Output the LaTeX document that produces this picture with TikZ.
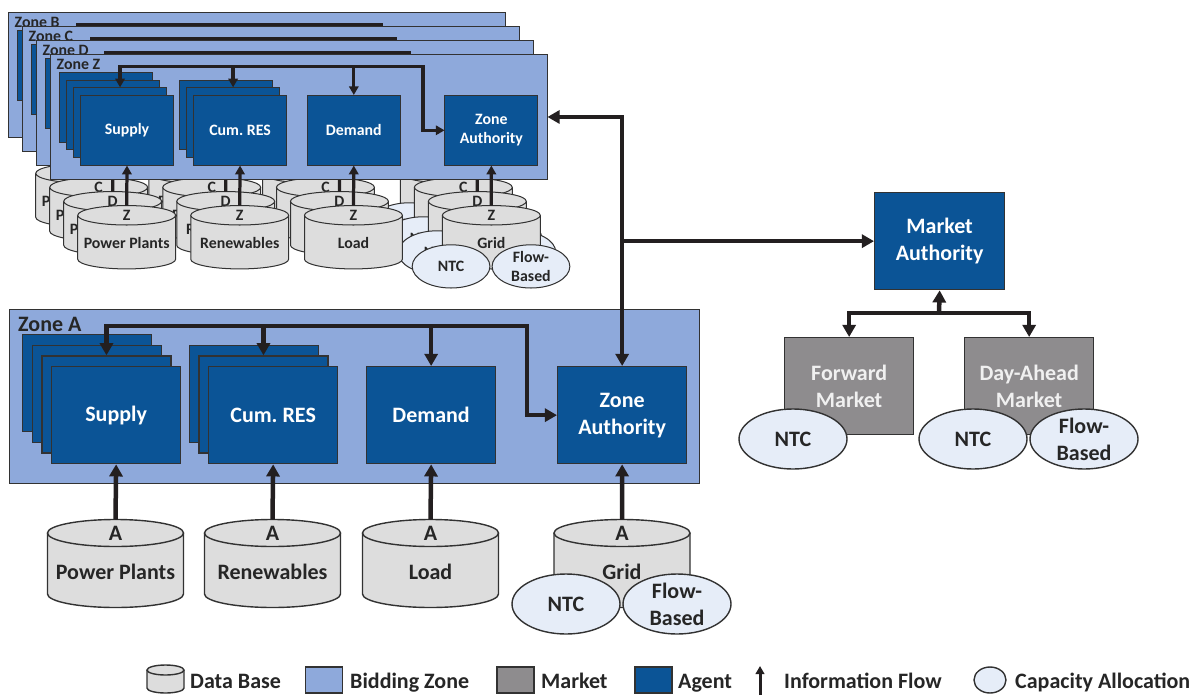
\documentclass[tikz,border=0pt]{standalone}
\usepackage{fontspec}
\setmainfont{Carlito}
\usetikzlibrary{arrows.meta,shapes.geometric}

\definecolor{zonefill}{RGB}{142,169,219}
\definecolor{agentfill}{RGB}{11,84,150}
\definecolor{mktfill}{RGB}{142,140,142}
\definecolor{cylfill}{RGB}{221,221,221}
\definecolor{capfill}{RGB}{230,237,248}
\definecolor{linec}{RGB}{35,31,32}
\definecolor{textdark}{RGB}{38,38,38}
\definecolor{edgec}{RGB}{50,50,50}

\def\zs{1}

\tikzset{
  txt/.style={font=\fontsize{22}{27}\selectfont\bfseries},
  zonebg/.style={draw=edgec, line width=1.3pt*\zs, fill=zonefill, inner sep=0pt},
  zonelbl/.style={txt, text=textdark, inner sep=0pt},
  agent/.style={txt, draw=edgec, line width=1.3pt*\zs, fill=agentfill, text=white,
    minimum width=129pt, minimum height=97pt, inner sep=0pt, align=center},
  market/.style={txt, draw=edgec, line width=1.3pt*\zs, fill=mktfill, text=white!94!black,
    minimum width=129pt, minimum height=97pt, inner sep=0pt, align=center},
  cylline/.style={draw=edgec, line width=1.4pt*\zs},
  cyltext/.style={txt, text=textdark, inner sep=0pt},
  capell/.style={ellipse, draw=edgec, line width=1.4pt*\zs, fill=capfill,
    minimum width=108pt, minimum height=60pt, inner sep=0pt},
  captext/.style={txt, text=textdark, inner sep=0pt, align=center},
  flow/.style={draw=linec, line width=4.5pt*\zs, line join=miter},
  lgtext/.style={txt, text=textdark, inner sep=0pt, anchor=base west},
}

% database cylinder: name, centre x, key letter, caption
\newcommand\dbcyl[4]{%
  \fill[cylfill] ({#2-68},-533) -- ({#2-68},-594)
    arc[start angle=180, end angle=360, x radius=68, y radius=13.5] -- ({#2+68},-533) -- cycle;
  \draw[cylline] ({#2-68},-533) -- ({#2-68},-594)
    arc[start angle=180, end angle=360, x radius=68, y radius=13.5] -- ({#2+68},-533);
  \draw[cylline, fill=cylfill] (#2,-533) ellipse[x radius=68, y radius=13.5];
  \coordinate (#1) at (#2,-519.5);
  \node[cyltext] (#1-k) at (#2,-533) {#3};
  \node[cyltext] (#1-t) at (#2,-572) {#4};
}

% one bidding zone with its agents and data bases: letter, left, top, scale
\newcommand\zoneblock[4]{%
\begin{scope}[shift={({#2-#4*9},{-#3+#4*309})}, scale=#4, transform shape, name prefix=#1-]
  \def\zs{#4}
  \node[zonebg, anchor=north west, minimum width=690pt, minimum height=174pt] (bg) at (9,-309) {};
  \node[zonelbl, anchor=base west] (lbl) at (18,-331) {Zone #1};
  \node[agent, anchor=north west] (sup1) at (22,-334) {};
  \node[agent, anchor=north west] (sup2) at (31.67,-344.67) {};
  \node[agent, anchor=north west] (sup3) at (41.33,-355.33) {};
  \node[agent, anchor=north west] (sup4) at (51,-366) {Supply};
  \node[agent, anchor=north west] (res1) at (188.67,-344.67) {};
  \node[agent, anchor=north west] (res2) at (198.33,-355.33) {};
  \node[agent, anchor=north west] (res3) at (208,-366) {Cum.\ RES};
  \node[agent, anchor=north west] (dem) at (366,-366) {Demand};
  \node[agent, anchor=north west] (auth) at (557,-366) {Zone\\Authority};
  \coordinate (bus) at (527,-326);
  \draw[flow, <->] (sup3.north) -- (sup3.north |- bus) -- (bus) |- (auth.west);
  \draw[flow, ->] (res2.north |- bus) -- (res2.north);
  \draw[flow, ->] (dem.north |- bus) -- (dem.north);
  \dbcyl{pp}{115.5}{#1}{Power Plants}
  \dbcyl{ren}{272.5}{#1}{Renewables}
  \dbcyl{load}{430.5}{#1}{Load}
  \dbcyl{grid}{622}{#1}{Grid}
  \draw[flow, ->] (pp) -- (sup4.south);
  \draw[flow, ->] (ren) -- (res3.south);
  \draw[flow, ->] (load) -- (dem.south);
  \draw[flow, ->] (grid) -- (auth.south);
  \node[capell] (ntc) at (566,-604) {};
  \node[captext] (ntct) at (ntc) {NTC};
  \node[capell] (fb) at (677,-604) {};
  \node[captext] (fbt) at (fb) {Flow-\\Based};
\end{scope}}

\begin{document}
\begin{tikzpicture}[x=1pt, y=1pt, >={Triangle[length=0pt 2.7 0, width=0pt 2.9 0]}]
\useasboundingbox (0,0) rectangle (1196,-696);
\fill[white] (0,0) rectangle (1196,-696);

% stacked zones, back to front
\zoneblock{B}{8}{12}{0.72}
\zoneblock{C}{22}{26}{0.72}
\zoneblock{D}{36}{40}{0.72}
\zoneblock{Z}{50}{54}{0.72}
\zoneblock{A}{9}{309}{1}

% market side
\node[agent, anchor=north west, minimum width=130pt] (MA) at (874,-192) {Market\\Authority};
\node[market, anchor=north west] (FM) at (784,-337) {Forward\\Market};
\node[market, anchor=north west] (DA) at (964,-337) {Day-Ahead\\Market};
\node[capell] (FMntc) at (793,-439) {};
\node[captext] (FMntct) at (FMntc) {NTC};
\node[capell] (DAntc) at (973,-439) {};
\node[captext] (DAntct) at (DAntc) {NTC};
\node[capell] (DAfb) at (1084,-439) {};
\node[captext] (DAfbt) at (DAfb) {Flow-\\Based};

% information flows between authorities and markets
\draw[flow, <->] (Z-bg.east) -| (A-auth.north);
\draw[flow, ->] (A-auth.north |- MA.west) -- (MA.west);
\coordinate (mj) at (939,-313);
\draw[flow, <->] (FM.north) |- (mj) -| (DA.north);
\draw[flow, ->] (mj) -- (MA.south);

% legend
\fill[cylfill] (147,-670) -- (147,-688) arc[start angle=180, end angle=360, x radius=18.5, y radius=5] -- (184,-670) -- cycle;
\draw[cylline] (147,-670) -- (147,-688) arc[start angle=180, end angle=360, x radius=18.5, y radius=5] -- (184,-670);
\draw[cylline, fill=cylfill] (165.5,-670) ellipse[x radius=18.5, y radius=5];
\node[lgtext] (lg1) at (190,-688) {Data Base};
\node[zonebg, minimum width=37pt, minimum height=26pt] (lgz) at (324,-680) {};
\node[lgtext] (lg2) at (350,-688) {Bidding Zone};
\node[draw=edgec, line width=1.3pt, fill=mktfill, minimum width=37pt, minimum height=26pt, inner sep=0pt] (lgm) at (515.5,-680) {};
\node[lgtext] (lg3) at (541,-688) {Market};
\node[draw=edgec, line width=1.3pt, fill=agentfill, minimum width=37pt, minimum height=26pt, inner sep=0pt] (lga) at (653.5,-680) {};
\node[lgtext] (lg4) at (678,-688) {Agent};
\coordinate (lgf0) at (760,-695);
\coordinate (lgf1) at (760,-666);
\draw[flow, line width=3pt, ->] (lgf0) -- (lgf1);
\node[lgtext] (lg5) at (784,-688) {Information Flow};
\node[capell, minimum width=32pt, minimum height=26pt] (lgc) at (990,-680) {};
\node[lgtext] (lg6) at (1015,-688) {Capacity Allocation};
\end{tikzpicture}
\end{document}
